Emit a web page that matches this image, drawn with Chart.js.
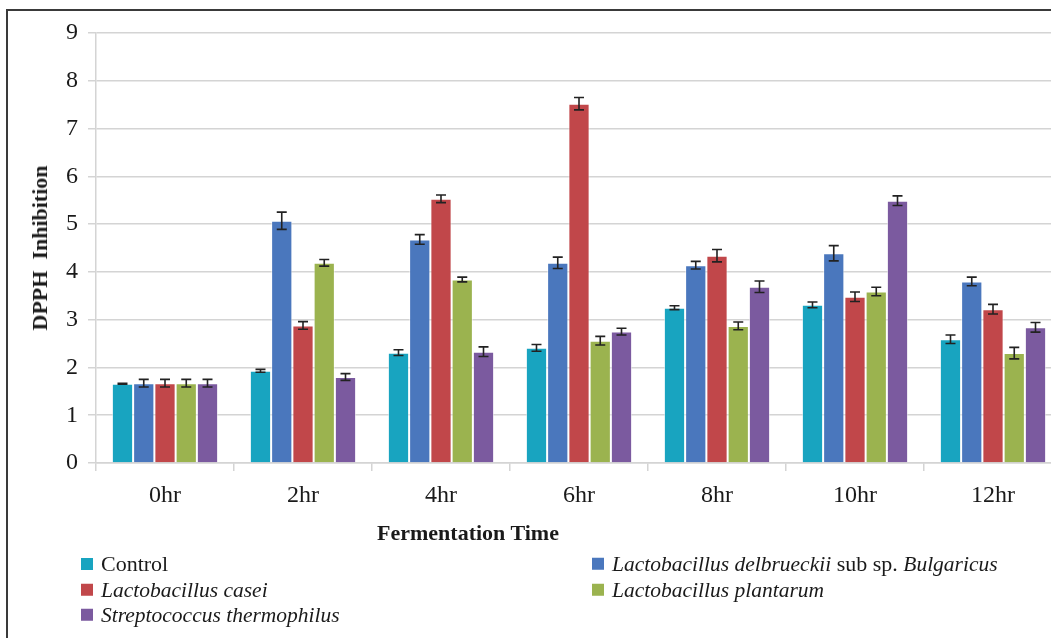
<!DOCTYPE html>
<html>
<head>
<meta charset="utf-8">
<script src="https://cdn.jsdelivr.net/npm/chart.js@4.4.1/dist/chart.umd.min.js"></script>
<style>
  body { margin: 0; width: 1051px; height: 638px; overflow: hidden; background: #fff; position: relative; font-family: "Liberation Serif", serif; color: #1a1a1a; }
  #frame { position: absolute; left: 6px; top: 9px; width: 1200px; height: 800px; border: 2px solid #3a3a3a; }
  #wrap { position: absolute; left: 0; top: 0; width: 1070px; height: 638px; }
  .ytitle { position: absolute; left: 40px; top: 248px; transform: translate(-50%, -50%) rotate(-90deg); font-weight: bold; font-size: 22px; white-space: pre; }
  .xtitle { position: absolute; left: 468px; top: 533px; transform: translate(-50%, -50%); font-weight: bold; font-size: 22px; white-space: nowrap; }
  .leg { position: absolute; font-size: 22px; white-space: nowrap; line-height: 1; transform: translateY(-50%); }
  .leg i { font-size: 21.5px; }
  .leg span.sw { display: inline-block; width: 12px; height: 12px; margin-right: 8px; vertical-align: 1px; }
</style>
</head>
<body>
<div id="frame"></div>
<div id="wrap"><canvas id="chart" width="1070" height="638"></canvas></div>
<div class="ytitle">DPPH  Inhibition</div>
<div class="xtitle">Fermentation Time</div>
<div id="legend"></div>
<script>
const categories = ['0hr', '2hr', '4hr', '6hr', '8hr', '10hr', '12hr'];
const seriesNames = ['Control', 'Lactobacillus delbrueckii sub sp. Bulgaricus', 'Lactobacillus casei', 'Lactobacillus plantarum', 'Streptococcus thermophilus'];
const colors = ['#18a4c0', '#4a77bd', '#c1474a', '#9bb34f', '#7b5a9f'];

const control = [1.66, 1.93, 2.31, 2.41, 3.25, 3.31, 2.59];
const bulgaricus = [1.67, 5.07, 4.68, 4.19, 4.14, 4.39, 3.80];
const casei = [1.67, 2.88, 5.53, 7.52, 4.34, 3.48, 3.22];
const plantarum = [1.67, 4.19, 3.84, 2.56, 2.87, 3.59, 2.30];
const thermophilus = [1.67, 1.80, 2.33, 2.75, 3.69, 5.49, 2.84];

const controlErr = [0.01, 0.03, 0.06, 0.07, 0.04, 0.06, 0.09];
const bulgaricusErr = [0.08, 0.18, 0.10, 0.12, 0.08, 0.16, 0.09];
const caseiErr = [0.08, 0.08, 0.08, 0.13, 0.13, 0.10, 0.10];
const plantarumErr = [0.08, 0.07, 0.05, 0.09, 0.08, 0.09, 0.12];
const thermophilusErr = [0.08, 0.07, 0.10, 0.07, 0.12, 0.10, 0.10];

const yTicks = [0, 1, 2, 3, 4, 5, 6, 7, 8, 9];

const values = [control, bulgaricus, casei, plantarum, thermophilus];
const errors = [controlErr, bulgaricusErr, caseiErr, plantarumErr, thermophilusErr];

// error bars drawn on top of the bars
const errorBars = {
    id: 'errorBars',
    afterDatasetsDraw(chart) {
        const ctx = chart.ctx;
        const y = chart.scales.y;
        ctx.save();
        ctx.strokeStyle = '#222';
        ctx.lineWidth = 1.6;
        chart.data.datasets.forEach((ds, i) => {
            const meta = chart.getDatasetMeta(i);
            meta.data.forEach((bar, j) => {
                const v = ds.data[j], e = errors[i][j];
                const top = y.getPixelForValue(v + e);
                const bot = y.getPixelForValue(v - e);
                ctx.beginPath();
                ctx.moveTo(bar.x, top); ctx.lineTo(bar.x, bot);
                ctx.moveTo(bar.x - 5, top); ctx.lineTo(bar.x + 5, top);
                ctx.moveTo(bar.x - 5, bot); ctx.lineTo(bar.x + 5, bot);
                ctx.stroke();
            });
        });
        ctx.restore();
    }
};

new Chart(document.getElementById('chart'), {
    type: 'bar',
    data: {
        labels: categories,
        datasets: values.map((d, i) => ({
            label: seriesNames[i],
            data: d,
            backgroundColor: colors[i],
            borderColor: 'rgba(255,255,255,0.55)',
            borderWidth: 1,
            barPercentage: 1,
            categoryPercentage: 0.77
        }))
    },
    options: {
        responsive: false,
        animation: false,
        layout: { padding: { left: 0, right: 8, top: 33, bottom: 0 } },
        plugins: { legend: { display: false }, tooltip: { enabled: false } },
        scales: {
            x: {
                grid: { drawOnChartArea: false, color: '#d4d4d4', lineWidth: 1.5, tickLength: 8 },
                border: { color: '#d4d4d4', width: 1.5 },
                ticks: { color: '#1a1a1a', font: { family: 'Liberation Serif', size: 24 }, padding: 10 },
                afterFit: s => { s.height = 175; }
            },
            y: {
                min: 0, max: 9,
                afterBuildTicks: s => { s.ticks = yTicks.map(v => ({ value: v })); },
                grid: { color: '#d4d4d4', lineWidth: 1.5, tickLength: 8 },
                border: { color: '#d4d4d4', width: 1.5 },
                ticks: { color: '#1a1a1a', font: { family: 'Liberation Serif', size: 24 }, padding: 10 },
                afterFit: s => { s.width = 96; }
            }
        }
    },
    plugins: [errorBars]
});

// legend with mixed italics
const legendItems = [
    { i: 0, x: 81, y: 564, html: 'Control' },
    { i: 1, x: 592, y: 564, html: '<i>Lactobacillus delbrueckii</i> sub sp. <i>Bulgaricus</i>' },
    { i: 2, x: 81, y: 590, html: '<i>Lactobacillus casei</i>' },
    { i: 3, x: 592, y: 590, html: '<i>Lactobacillus plantarum</i>' },
    { i: 4, x: 81, y: 615, html: '<i>Streptococcus thermophilus</i>' }
];
document.getElementById('legend').innerHTML = legendItems.map(it =>
    `<div class="leg" style="left:${it.x}px;top:${it.y}px"><span class="sw" style="background:${colors[it.i]}"></span>${it.html}</div>`
).join('');
</script>
</body>
</html>
